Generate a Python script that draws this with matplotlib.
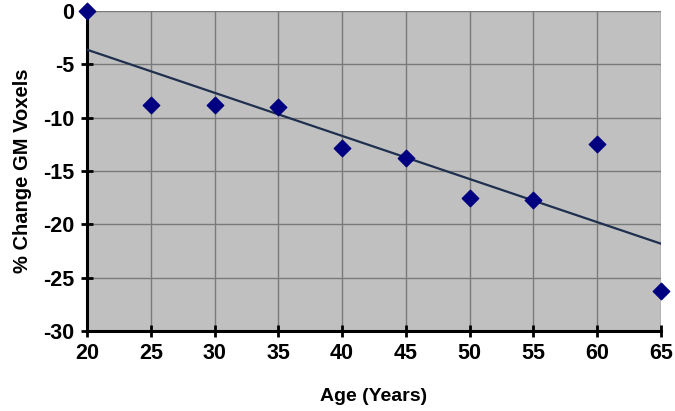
import numpy as np
import matplotlib
matplotlib.use("Agg")
import matplotlib.pyplot as plt

# values
age = [20, 25, 30, 35, 40, 45, 50, 55, 60, 65]
pct_change = [0.0, -8.8, -8.8, -9.0, -12.8, -13.8, -17.5, -17.7, -12.5, -26.3]

plt.rcParams['font.family'] = ['Liberation Sans', 'DejaVu Sans']
plt.rcParams['font.weight'] = 'bold'
plt.rcParams['axes.unicode_minus'] = False

fig = plt.figure(figsize=(6.75, 4.11), dpi=100)
ax = fig.add_axes([0.129, 0.195, 0.850, 0.778])
ax.set_facecolor('#c0c0c0')

# linear trend line
slope, intercept = np.polyfit(age, pct_change, 1)
xs = np.array([min(age), max(age)])
ax.plot(xs, slope * xs + intercept, color='#1f2f4f', lw=1.6, zorder=3)

ax.scatter(age, pct_change, marker='D', s=70, color='#000080', zorder=4, clip_on=False)

ax.set_xlim(20, 65)
ax.set_ylim(-30, 0)
ax.set_xticks(range(20, 66, 5))
ax.set_yticks(range(-30, 1, 5))
ax.grid(True, color='#7a7a7a', lw=1.0)
ax.set_axisbelow(True)

for s in ['top', 'right']:
    ax.spines[s].set_visible(False)
for s in ['left', 'bottom']:
    ax.spines[s].set_linewidth(2.2)
    ax.spines[s].set_color('black')
ax.tick_params(direction='inout', length=8, width=2, labelsize=15.5, pad=5)

ax.set_xlabel('Age (Years)', fontsize=14, fontweight='bold', labelpad=17)
ax.set_ylabel('% Change GM Voxels', fontsize=14.5, fontweight='bold', labelpad=8)

fig.savefig('out.png', dpi=100)
